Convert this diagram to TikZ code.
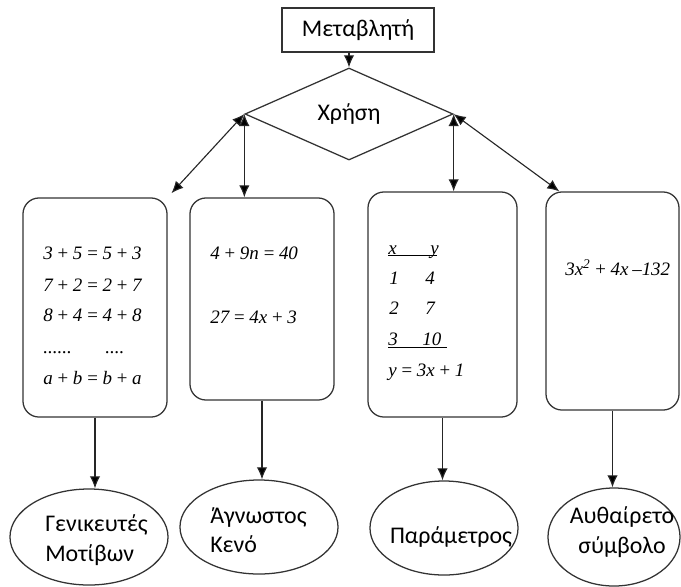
\documentclass[tikz,border=0pt]{standalone}
\usepackage{fontspec}
\setmainfont{Carlito}
\newfontfamily\timesfont{Liberation Serif}
\usepackage{tikz}
\usetikzlibrary{shapes.geometric}
\usetikzlibrary{arrows.meta}
\newcommand\eqfont{\timesfont\itshape\fontsize{13.5}{16}\selectfont\spaceskip=2.6pt plus 1pt\relax}

\begin{document}
\begin{tikzpicture}[x=0.025cm,y=-0.025cm,>={Latex[length=3mm,width=2.6mm]},
	main node/.style={draw=black!80, line width=0.9pt, font=\fontsize{17}{21}\selectfont},
	box node/.style={main node, rectangle, rounded corners=0.4cm, minimum width=3.6cm},
	leaf node/.style={main node, ellipse, inner sep=0pt},
	leaf text/.style={inner sep=0pt, font=\fontsize{17}{21}\selectfont},
	math line/.style={anchor=west, inner sep=0pt, font=\eqfont}]
	\useasboundingbox (0,0) rectangle (681,586);
	% Nodes
	\node[main node, rectangle, minimum width=3.8cm, minimum height=1.1cm] (1) at (358,30) {Μεταβλητή};
	\node[main node, diamond, minimum width=5.2cm, minimum height=2.3cm, inner sep=0pt] (2) at (349,114) {Χρήση};
	
	\node[box node, minimum height=5.475cm] (3) at (95,307.5) {};
	\node[box node, minimum height=5.05cm] (4) at (262,299) {};
	\node[box node, minimum width=3.725cm, minimum height=5.625cm] (5) at (442.5,304.5) {};
	\node[box node, minimum width=3.325cm, minimum height=5.45cm] (6) at (612.5,301) {};
	
	\node[leaf node, minimum width=3.95cm, minimum height=2.4cm] (7) at (89,537) {};
	\node[leaf node, minimum width=3.95cm, minimum height=2.35cm] (8) at (259,527) {};
	\node[leaf node, minimum width=3.7cm, minimum height=2.35cm] (9) at (444,528) {};
	\node[leaf node, minimum width=3.3cm, minimum height=2.45cm] (10) at (614,537) {};
	
	% box texts
	\node[math line] (3a) at (43,253) {3 + 5 = 5 + 3};
	\node[math line] (3b) at (43,285) {7 + 2 = 2 + 7};
	\node[math line] (3c) at (43,315) {8 + 4 = 4 + 8};
	\node[math line, anchor=base west] (3d) at (43,353) {......};
	\node[math line, anchor=base west] (3e) at (105,353) {....};
	\node[math line] (3f) at (43,378) {a + b = b + a};
	
	\node[math line] (4a) at (210,253) {4 + 9n = 40};
	\node[math line] (4b) at (210,317) {27 = 4x + 3};
	
	\node[math line, anchor=base west] (5a) at (388,254) {\makebox[0pt][l]{\rule[-1.2pt]{1.225cm}{0.6pt}}\makebox[1.05cm][l]{x}y};
	\node[math line] (5b) at (389,278) {\makebox[0.9cm][l]{1}4};
	\node[math line] (5c) at (389,308) {\makebox[0.9cm][l]{2}7};
	\node[math line, anchor=base west] (5d) at (388,345) {\makebox[0pt][l]{\rule[-1.8pt]{1.475cm}{0.6pt}}\makebox[0.85cm][l]{3}10};
	\node[math line] (5e) at (388,372) {y = 3x + 1};
	
	\node[math line] (6a) at (565,268) {3x\textsuperscript{2} + 4x \textendash132};
	
	% leaf texts
	\node[leaf text, anchor=west, align=left] (7a) at (45,540) {Γενικευτές\\Μοτίβων};
	\node[leaf text, anchor=west, align=left] (8a) at (210,530) {Άγνωστος\\Κενό};
	\node[leaf text] (9a) at (451,537) {Παράμετρος};
	\node[leaf text, align=center] (10a) at (622,532) {Αυθαίρετο\\σύμβολο};
	
	\path[draw=black!85, line width=0.8pt]
	(2.north |- 1.south) edge[->] (2.north)
	
	(2.west)
	edge[<->, shorten >=4pt] (3.north east)
	edge[<->] (2.west |- 4.north)
	
	(2.east)
	edge[<->] (2.east |- 5.north)
	edge[<->] ([xshift=0.35cm]6.north west)
	
	(3.south) edge[->] (3.south |- 7.north)
	(4.south) edge[->] (4.south |- 8.north)
	(5.south) edge[->] (5.south |- 9.north)
	(6.south) edge[->] (6.south |- 10.north);
	
\end{tikzpicture}
\end{document}
